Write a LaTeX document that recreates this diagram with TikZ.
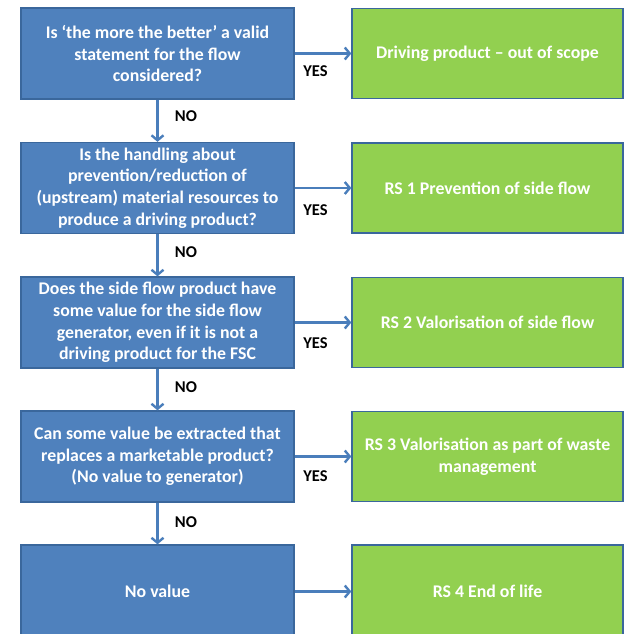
\documentclass[tikz,border=0pt]{standalone}
\usepackage{fontspec}
\setmainfont{Carlito}
\usetikzlibrary{arrows.meta}
\definecolor{qblue}{HTML}{4F81BD}
\definecolor{qborder}{HTML}{3A679C}
\definecolor{qgreen}{HTML}{92D050}
\definecolor{qarrow}{HTML}{4A7EBB}
\tikzset{
  qbox/.style={draw=qborder, line width=1.3pt, fill=qblue, text=white, font=\fontsize{17.8}{21.7}\selectfont\bfseries, align=center, inner sep=0pt},
  abox/.style={draw=qborder, line width=1.3pt, fill=qgreen, text=white, font=\fontsize{17.8}{21.7}\selectfont\bfseries, align=center, inner sep=0pt},
  conn/.style={draw=qarrow, line width=2.6pt, -{Straight Barb[length=5pt,width=12pt,line width=2.4pt]}},
  lbl/.style={font=\fontsize{16.5}{18}\selectfont\bfseries, text=black, inner sep=0pt}
}
\begin{document}
\begin{tikzpicture}[x=1pt,y=-1pt]
\useasboundingbox (0,0) rectangle (625,634);
% question boxes
\node[qbox, minimum width=273pt, minimum height=91pt] (q1) at (157.5,53.5) {Is ‘the more the better’ a valid\\statement for the flow\\considered?};
\node[qbox, minimum width=273pt, minimum height=91pt] (q2) at (157.5,188) {Is the handling about\\prevention/reduction of\\(upstream) material resources to\\produce a driving product?};
\node[qbox, minimum width=273pt, minimum height=91pt] (q3) at (157.5,322.5) {Does the side flow product have\\some value for the side flow\\generator, even if it is not a\\driving product for the FSC};
\node[qbox, minimum width=273pt, minimum height=91pt] (q4) at (157.5,456.5) {Can some value be extracted that\\replaces a marketable product?\\(No value to generator)};
\node[qbox, minimum width=273pt, minimum height=93pt] (q5) at (157.5,591.5) {No value};
% answer boxes
\node[abox, minimum width=271pt, minimum height=90pt] (a1) at (487.5,53.5) {Driving product – out of scope};
\node[abox, minimum width=271pt, minimum height=90pt] (a2) at (487.5,188) {RS 1 Prevention of side flow};
\node[abox, minimum width=271pt, minimum height=90pt] (a3) at (487.5,322.5) {RS 2 Valorisation of side flow};
\node[abox, minimum width=271pt, minimum height=90pt] (a4) at (487.5,456.5) {RS 3 Valorisation as part of waste\\management};
\node[abox, minimum width=271pt, minimum height=93pt] (a5) at (487.5,591.5) {RS 4 End of life};
% connectors
\draw[conn] (q1) -- (a1);
\draw[conn] (q2) -- (a2);
\draw[conn] (q3) -- (a3);
\draw[conn] (q4) -- (a4);
\draw[conn] (q5) -- (a5);
\draw[conn] (q1) -- (q2);
\draw[conn] (q2) -- (q3);
\draw[conn] (q3) -- (q4);
\draw[conn] (q4) -- (q5);
% labels
\node[lbl] (y1) at (315.5,71) {YES};
\node[lbl] (y2) at (315.5,210) {YES};
\node[lbl] (y3) at (315.5,343) {YES};
\node[lbl] (y4) at (315.5,476) {YES};
\node[lbl] (n1) at (186,116) {NO};
\node[lbl] (n2) at (186,252) {NO};
\node[lbl] (n3) at (186,387) {NO};
\node[lbl] (n4) at (186,522) {NO};
\end{tikzpicture}
\end{document}
